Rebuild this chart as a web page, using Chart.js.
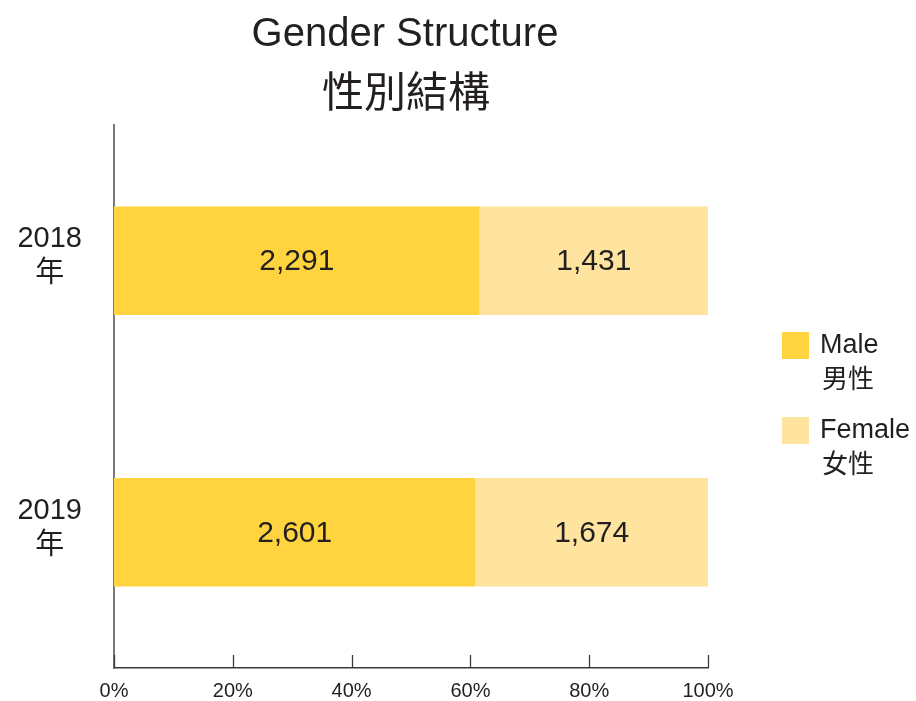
<!DOCTYPE html>
<html>
<head>
<meta charset="utf-8">
<script src="https://cdn.jsdelivr.net/npm/chart.js@4.4.1/dist/chart.umd.min.js"></script>
<style>
  html, body { margin: 0; padding: 0; background: #ffffff; }
  #wrap { width: 916px; height: 701px; position: relative; }
</style>
</head>
<body>
<div id="wrap"><canvas id="c" width="916" height="701"></canvas></div>
<script>
// ---- data ----
const categories = [['2018', '年'], ['2019', '年']];
const maleCounts = [2291, 2601];
const femaleCounts = [1431, 1674];
const seriesNames = [['Male', '男性'], ['Female', '女性']];
const xTickValues = [0, 20, 40, 60, 80, 100];
const titleLines = ['Gender Structure', '性別結構'];

// ---- derived shares (percent of each year's total) ----
const maleShare = maleCounts.map((m, i) => m / (m + femaleCounts[i]) * 100);
const femaleShare = femaleCounts.map((f, i) => f / (maleCounts[i] + f) * 100);

const MALE_COLOR = '#FFD43E';
const FEMALE_COLOR = '#FEE49E';
const TEXT = '#231F20';
const LATIN = '"Liberation Sans", Arial, sans-serif';
const CJK = '"Noto Sans CJK TC", "Noto Sans CJK SC", sans-serif';
const MIXED = '"Liberation Sans", "Noto Sans CJK TC", sans-serif';

const countsBySeries = [maleCounts, femaleCounts];
const fmt = v => v.toLocaleString('en-US');

const decorPlugin = {
  id: 'decor',
  afterDraw(chart) {
    const ctx = chart.ctx;
    const area = chart.chartArea;
    const xs = chart.scales.x;
    ctx.save();

    // title
    ctx.fillStyle = TEXT;
    ctx.textAlign = 'center';
    ctx.textBaseline = 'alphabetic';
    ctx.font = '40px ' + LATIN;
    ctx.fillText(titleLines[0], 405, 46);
    ctx.textBaseline = 'middle';
    ctx.font = '42px ' + CJK;
    ctx.fillText(titleLines[1], 406, 91);

    // x tick marks pointing up
    ctx.strokeStyle = '#3a3a3a';
    ctx.lineWidth = 1.3;
    xTickValues.forEach(v => {
      const px = Math.round(xs.getPixelForValue(v)) + 0.5;
      ctx.beginPath();
      ctx.moveTo(px, area.bottom);
      ctx.lineTo(px, area.bottom - 13);
      ctx.stroke();
    });

    // value labels
    ctx.fillStyle = TEXT;
    ctx.font = '30px ' + LATIN;
    ctx.textAlign = 'center';
    ctx.textBaseline = 'middle';
    chart.data.datasets.forEach((ds, di) => {
      const meta = chart.getDatasetMeta(di);
      meta.data.forEach((el, i) => {
        const cx = (el.x + el.base) / 2;
        ctx.fillText(fmt(countsBySeries[di][i]), cx, el.y + 1);
      });
    });

    // legend
    const legendX = 782, legendTops = [332, 417];
    chart.data.datasets.forEach((ds, di) => {
      const top = legendTops[di];
      ctx.fillStyle = ds.backgroundColor;
      ctx.fillRect(legendX, top, 27, 27);
      ctx.fillStyle = TEXT;
      ctx.textAlign = 'left';
      ctx.textBaseline = 'alphabetic';
      ctx.font = '27px ' + LATIN;
      ctx.fillText(seriesNames[di][0], legendX + 38, top + 21);
      ctx.textBaseline = 'middle';
      ctx.font = '26px ' + CJK;
      ctx.fillText(seriesNames[di][1], legendX + 40, top + 46);
    });

    ctx.restore();
  }
};

new Chart(document.getElementById('c'), {
  type: 'bar',
  data: {
    labels: categories,
    datasets: [
      { label: seriesNames[0].join(' '), data: maleShare, backgroundColor: MALE_COLOR, borderWidth: 0 },
      { label: seriesNames[1].join(' '), data: femaleShare, backgroundColor: FEMALE_COLOR, borderWidth: 0 }
    ]
  },
  options: {
    indexAxis: 'y',
    responsive: false,
    animation: false,
    devicePixelRatio: 1,
    barPercentage: 0.4,
    categoryPercentage: 1.0,
    layout: { padding: { top: 125, right: 208, bottom: 0, left: 0 } },
    plugins: {
      legend: { display: false },
      title: { display: false },
      tooltip: { enabled: false }
    },
    scales: {
      x: {
        stacked: true,
        min: 0,
        max: 100,
        afterBuildTicks: s => { s.ticks = xTickValues.map(v => ({ value: v })); },
        afterFit: s => { s.height = 33; s.paddingLeft = 0; s.paddingRight = 0; },
        grid: { display: false, drawTicks: false },
        border: { display: true, color: '#3a3a3a', width: 1.5 },
        ticks: {
          padding: 11,
          color: TEXT,
          font: { family: LATIN, size: 20 },
          maxRotation: 0,
          autoSkip: false,
          callback: v => v + '%'
        }
      },
      y: {
        stacked: true,
        afterFit: s => { s.width = 114; s.paddingTop = 0; s.paddingBottom = 0; },
        grid: { display: false, drawTicks: false },
        border: { display: true, color: '#7a7a7a', width: 2 },
        ticks: {
          crossAlign: 'center',
          padding: 32,
          labelOffset: -4,
          color: TEXT,
          font: { family: MIXED, size: 29, lineHeight: 1.2 }
        }
      }
    }
  },
  plugins: [decorPlugin]
});
</script>
</body>
</html>
